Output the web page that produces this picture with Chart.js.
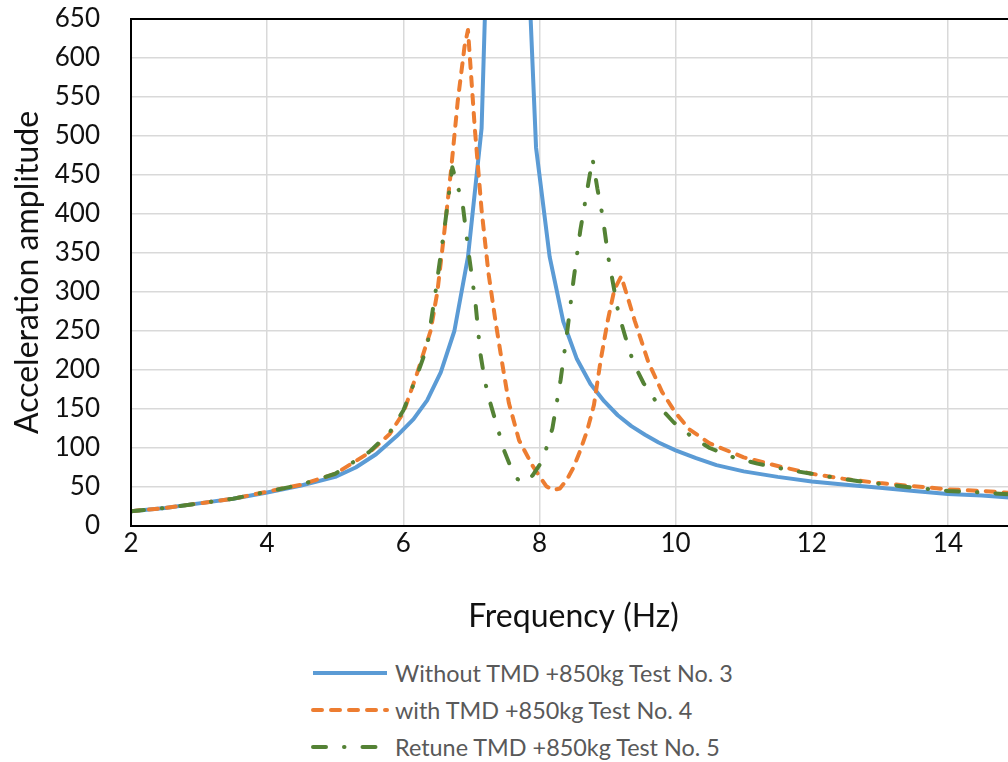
<!DOCTYPE html>
<html>
<head>
<meta charset="utf-8">
<script src="https://cdn.jsdelivr.net/npm/chart.js@4.4.0/dist/chart.umd.min.js"></script>
<style>
  html, body { margin: 0; padding: 0; background: #fff; overflow: hidden; }
  #wrap { position: relative; width: 1008px; height: 762px; overflow: hidden; }
  #chart { position: absolute; left: 0; top: 0; }
  #legend { position: absolute; left: 310px; top: 654px; font-family: Lato, sans-serif; font-size: 23.4px; color: #595959; }
  .row { display: flex; align-items: center; height: 37px; }
  .row svg { margin-right: 5px; }
</style>
</head>
<body>
<div id="wrap">
  <canvas id="chart" width="1030" height="650"></canvas>
  <div id="legend"></div>
</div>
<script>
// series names
const seriesNames = [
  'Without TMD +850kg Test No. 3',
  'with TMD +850kg Test No. 4',
  'Retune TMD +850kg Test No. 5'
];

// Without TMD (blue)
const blueFreq = [2.0, 2.5, 3.0, 3.5, 4.0, 4.5, 5.0, 5.3, 5.6, 5.9, 6.15, 6.35, 6.55, 6.75, 6.95, 7.15, 7.35, 7.55, 7.75,
  7.95, 8.15, 8.35, 8.55, 8.75, 8.95, 9.15, 9.35, 9.55, 9.75, 10.0, 10.3, 10.6, 11.0, 11.5, 12.0, 12.5, 13.0, 13.5, 14.0, 14.5, 15.0];
const blueAmp = [19, 23, 29, 35, 43, 52, 63, 75, 92, 115, 137, 161, 197, 250, 345, 510, 1100, 2000, 900,
  485, 345, 262, 214, 182, 160, 142, 128, 117, 107, 97, 87, 78, 70, 63, 57, 53, 49, 45, 41, 39, 36];

// with TMD (orange)
const orangeFreq = [2.0, 2.5, 3.0, 3.5, 4.0, 4.5, 5.0, 5.5, 5.8, 6.0, 6.2, 6.4, 6.5, 6.6, 6.7, 6.8, 6.9, 6.95,
  7.05, 7.15, 7.25, 7.35, 7.45, 7.55, 7.7, 7.9, 8.1, 8.2, 8.3, 8.4, 8.5, 8.6, 8.7, 8.8, 8.9, 9.0, 9.1, 9.2,
  9.3, 9.4, 9.6, 9.8, 10.0, 10.2, 10.5, 11.0, 11.5, 12.0, 12.5, 13.0, 13.5, 14.0, 14.5, 15.0];
const orangeAmp = [19, 23, 29, 35, 44, 53, 67, 94, 118, 145, 195, 250, 300, 375, 455, 545, 615, 636,
  510, 405, 325, 265, 210, 158, 110, 77, 51, 46, 48, 59, 75, 97, 122, 155, 213, 262, 303, 320,
  292, 263, 210, 172, 145, 124, 106, 88, 77, 67, 60, 55, 51, 47, 45, 42];

// Retune TMD (green)
const greenFreq = [2.0, 2.5, 3.0, 3.5, 4.0, 4.5, 5.0, 5.5, 5.8, 6.0, 6.1, 6.25, 6.35, 6.47, 6.62, 6.72, 6.8, 6.87,
  6.96, 7.06, 7.13, 7.2, 7.28, 7.38, 7.48, 7.58, 7.68, 7.78, 7.9, 8.0, 8.06, 8.19, 8.31, 8.41, 8.5, 8.6, 8.68,
  8.78, 8.85, 8.93, 9.01, 9.16, 9.26, 9.38, 9.53, 9.78, 9.97, 10.26, 10.5, 10.85, 11.2, 11.65, 12.2, 12.8,
  13.4, 14.0, 14.5, 15.0];
const greenAmp = [19, 23, 29, 35, 44, 53, 67, 95, 120, 148, 170, 205, 230, 298, 392, 460, 435, 414,
  350, 286, 222, 185, 157, 127, 97, 75, 60, 55, 65, 78, 88, 125, 187, 251, 315, 379, 420,
  471, 433, 396, 345, 273, 243, 209, 183, 151, 133, 113, 100, 88, 80, 72, 64, 56,
  50, 45, 43, 40];

const xTicks = [2, 4, 6, 8, 10, 12, 14];

const styles = [
  { color: '#5b9bd5', dash: [] },
  { color: '#ed7d31', dash: [9, 9] },
  { color: '#548235', dash: [13, 18, 0.5, 18] }
];

function toPoints(xs, ys) {
  return xs.map((x, i) => ({ x: x, y: ys[i] }));
}

const series = [
  toPoints(blueFreq, blueAmp),
  toPoints(orangeFreq, orangeAmp),
  toPoints(greenFreq, greenAmp)
];

const frame = {
  id: 'frame',
  afterDatasetsDraw(chart) {
    const { ctx, chartArea: a } = chart;
    ctx.save();
    ctx.strokeStyle = '#000';
    ctx.lineWidth = 2;
    ctx.strokeRect(a.left, a.top, a.right - a.left, a.bottom - a.top);
    ctx.restore();
  }
};

const ctx = document.getElementById('chart').getContext('2d');

const chart = new Chart(ctx, {
  type: 'scatter',
  data: {
    datasets: series.map((pts, i) => ({
      label: seriesNames[i],
      data: pts,
      showLine: true,
      borderColor: styles[i].color,
      backgroundColor: styles[i].color,
      borderWidth: 4,
      borderDash: styles[i].dash,
      borderCapStyle: i === 0 ? 'butt' : 'round',
      borderJoinStyle: 'round',
      pointRadius: 0,
      tension: 0,
      order: 2 - i
    }))
  },
  options: {
    responsive: false,
    animation: false,
    layout: { padding: { top: 19, right: 14, left: 0, bottom: 0 } },
    plugins: {
      legend: { display: false },
      tooltip: { enabled: false }
    },
    scales: {
      x: {
        type: 'linear',
        min: 2,
        max: 15,
        afterBuildTicks: s => { s.ticks = xTicks.map(v => ({ value: v })); },
        afterFit: s => { s.height = 650 - 526; },
        grid: { color: '#d9d9d9', lineWidth: 1.5, drawTicks: false },
        border: { display: false },
        ticks: { padding: 2, color: '#111', font: { family: 'Lato', size: 26 } },
        title: {
          display: true,
          text: 'Frequency (Hz)',
          color: '#111',
          font: { family: 'Lato', size: 32 },
          padding: { top: 0, bottom: 14 }
        }
      },
      y: {
        min: 0,
        max: 650,
        ticks: { stepSize: 50, padding: 0, color: '#111', font: { family: 'Lato', size: 26 } },
        afterFit: s => { s.width = 131; },
        grid: { color: '#d9d9d9', lineWidth: 1.5, drawTicks: true, tickLength: 31, tickColor: 'rgba(0,0,0,0)' },
        border: { display: false },
        title: {
          display: true,
          text: 'Acceleration amplitude',
          color: '#111',
          font: { family: 'Lato', size: 32 },
          padding: { top: 8, bottom: 0 }
        }
      }
    }
  },
  plugins: [frame]
});

// html legend, one entry per row
const legendEl = document.getElementById('legend');
chart.data.datasets.forEach(ds => {
  const row = document.createElement('div');
  row.className = 'row';
  const dash = ds.borderDash.length ? ds.borderDash.join(' ') : 'none';
  const cap = ds.borderCapStyle;
  row.innerHTML =
    '<svg width="80" height="10"><line x1="3" y1="5" x2="77" y2="5" stroke="' + ds.borderColor +
    '" stroke-width="4" stroke-linecap="' + cap + '" stroke-dasharray="' + dash + '"/></svg>' +
    '<span>' + ds.label + '</span>';
  legendEl.appendChild(row);
});
</script>
</body>
</html>
